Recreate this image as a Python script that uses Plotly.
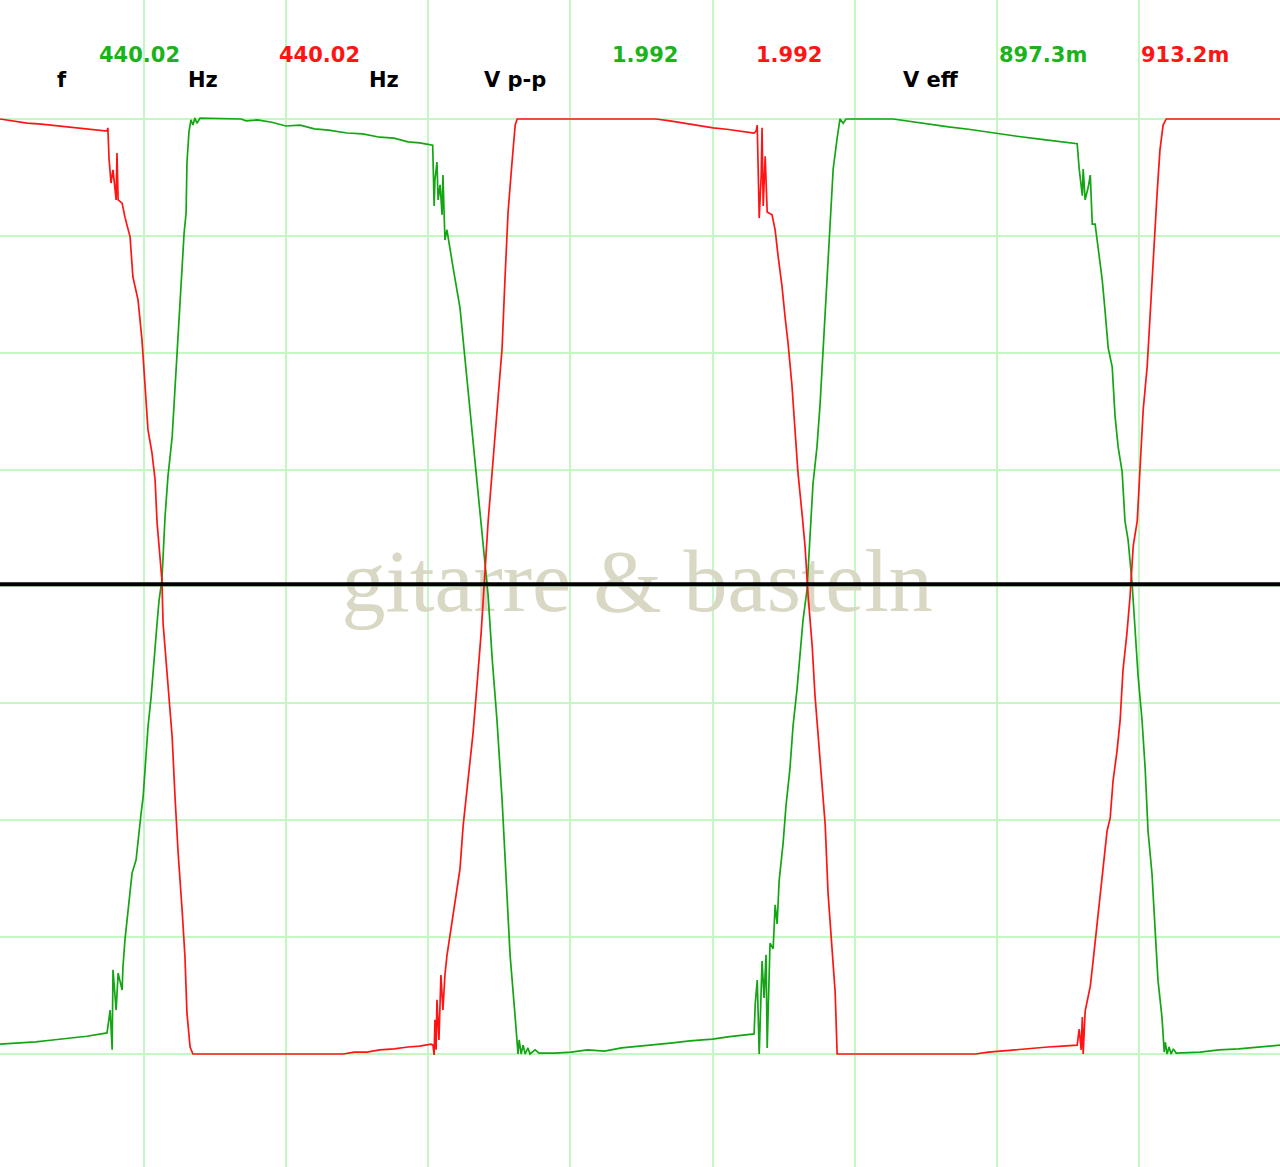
import plotly.graph_objects as go

# readouts shown above the screen
freq_vals = ["440.02", "440.02"]
vpp_vals = ["1.992", "1.992"]
veff_vals = ["897.3m", "913.2m"]
captions = ["f", "Hz", "Hz", "V p-p", "V eff"]
watermark = "gitarre & basteln"

# screen divisions: 0.5 ms/div, 0.25 V/div
x_grid = [0.5, 1.0, 1.5, 2.0, 2.5, 3.0, 3.5, 4.0]
y_grid = [-1.0, -0.75, -0.5, -0.25, 0.0, 0.25, 0.5, 0.75, 1.0]

# channel 1 (green), time in ms, voltage in V
green = [
    (-0.005, -0.979), (0.06, -0.977), (0.12, -0.974), (0.18, -0.970), (0.24, -0.966),
    (0.30, -0.962), (0.371, -0.955),
    (0.382, -0.906), (0.389, -0.991), (0.392, -0.820), (0.403, -0.906), (0.410, -0.827),
    (0.424, -0.863), (0.427, -0.814), (0.434, -0.756), (0.445, -0.699), (0.459, -0.613),
    (0.473, -0.585), (0.480, -0.542), (0.491, -0.484), (0.498, -0.450), (0.505, -0.386),
    (0.515, -0.301), (0.526, -0.236), (0.536, -0.151), (0.547, -0.078), (0.554, -0.029),
    (0.564, 0.014), (0.575, 0.149), (0.585, 0.234), (0.600, 0.320), (0.610, 0.427),
    (0.617, 0.512), (0.624, 0.585), (0.635, 0.692), (0.642, 0.756), (0.649, 0.799),
    (0.652, 0.906), (0.659, 0.972), (0.666, 0.998), (0.673, 0.987), (0.680, 1.002),
    (0.687, 0.991), (0.698, 1.002), (0.842, 1.000),
    (0.86, 0.996), (0.90, 0.998), (0.95, 0.993), (1.000, 0.985), (1.05, 0.987),
    (1.10, 0.979), (1.15, 0.976), (1.215, 0.970), (1.27, 0.968), (1.33, 0.961),
    (1.38, 0.959), (1.429, 0.951), (1.47, 0.949), (1.516, 0.944),
    (1.521, 0.814), (1.524, 0.870), (1.531, 0.908), (1.535, 0.827), (1.542, 0.859),
    (1.549, 0.795), (1.552, 0.880), (1.559, 0.741), (1.566, 0.763), (1.588, 0.681),
    (1.612, 0.596), (1.630, 0.484), (1.647, 0.378), (1.665, 0.258), (1.683, 0.140),
    (1.700, 0.033), (1.711, -0.020), (1.725, -0.153), (1.742, -0.286), (1.760, -0.457),
    (1.778, -0.656), (1.788, -0.788), (1.806, -0.921), (1.816, -1.000),
    (1.820, -0.970), (1.827, -1.000), (1.834, -0.981), (1.841, -1.000), (1.851, -0.987),
    (1.858, -1.000), (1.876, -0.991), (1.890, -0.998), (1.946, -0.998),
    (2.003, -0.996), (2.06, -0.991), (2.12, -0.994), (2.18, -0.987), (2.245, -0.983),
    (2.30, -0.981), (2.36, -0.976), (2.42, -0.972), (2.50, -0.968), (2.56, -0.963),
    (2.62, -0.959), (2.646, -0.957),
    (2.650, -0.893), (2.657, -0.842), (2.664, -1.000), (2.674, -0.801), (2.681, -0.880),
    (2.688, -0.788), (2.692, -0.987), (2.702, -0.763), (2.713, -0.775), (2.720, -0.681),
    (2.727, -0.722), (2.734, -0.630), (2.748, -0.549), (2.758, -0.470), (2.772, -0.390),
    (2.783, -0.298), (2.797, -0.219), (2.808, -0.138), (2.818, -0.072), (2.832, -0.007),
    (2.843, 0.112), (2.853, 0.219), (2.867, 0.298), (2.878, 0.390), (2.889, 0.510),
    (2.903, 0.656), (2.913, 0.775), (2.924, 0.893), (2.938, 0.959), (2.948, 1.000),
    (2.959, 0.991), (2.969, 1.000), (3.135, 1.000),
    (3.20, 0.994), (3.26, 0.989), (3.33, 0.983), (3.40, 0.978), (3.507, 0.968),
    (3.57, 0.963), (3.65, 0.957), (3.72, 0.951), (3.782, 0.947),
    (3.789, 0.893), (3.800, 0.836), (3.803, 0.893), (3.810, 0.827), (3.821, 0.855),
    (3.828, 0.880), (3.835, 0.775), (3.845, 0.775), (3.856, 0.722), (3.870, 0.656),
    (3.880, 0.589), (3.891, 0.510), (3.905, 0.470), (3.915, 0.365), (3.926, 0.298),
    (3.940, 0.245), (3.950, 0.140), (3.961, 0.099), (3.975, 0.007), (3.985, -0.087),
    (3.996, -0.191), (4.010, -0.286), (4.021, -0.390), (4.031, -0.523), (4.045, -0.615),
    (4.056, -0.735), (4.066, -0.842), (4.080, -0.921), (4.088, -0.996),
    (4.092, -0.975), (4.098, -1.000), (4.105, -0.985), (4.112, -1.000), (4.120, -0.989),
    (4.130, -0.998), (4.214, -0.996), (4.28, -0.991), (4.35, -0.989), (4.42, -0.985),
    (4.496, -0.981),
]

# channel 2 (red)
red = [
    (-0.005, 1.000), (0.04, 0.996), (0.09, 0.991), (0.14, 0.989), (0.20, 0.985),
    (0.26, 0.981), (0.32, 0.978), (0.371, 0.974),
    (0.374, 0.981), (0.378, 0.916), (0.385, 0.863), (0.392, 0.891), (0.403, 0.827),
    (0.406, 0.927), (0.410, 0.827), (0.424, 0.820), (0.434, 0.790), (0.452, 0.748),
    (0.462, 0.662), (0.480, 0.613), (0.494, 0.527), (0.505, 0.414), (0.515, 0.335),
    (0.529, 0.286), (0.540, 0.228), (0.547, 0.136), (0.557, 0.057), (0.564, 0.014),
    (0.568, -0.078), (0.582, -0.185), (0.600, -0.322), (0.610, -0.450), (0.621, -0.570),
    (0.635, -0.692), (0.645, -0.792), (0.652, -0.912), (0.663, -0.985), (0.673, -1.000),
    (1.201, -1.000), (1.24, -0.996), (1.285, -0.996), (1.33, -0.991), (1.38, -0.989),
    (1.429, -0.985), (1.47, -0.983), (1.510, -0.979),
    (1.517, -0.981), (1.521, -1.002), (1.524, -0.927), (1.528, -0.991), (1.531, -0.884),
    (1.538, -0.970), (1.545, -0.831), (1.552, -0.906), (1.559, -0.831), (1.566, -0.790),
    (1.588, -0.697), (1.612, -0.604), (1.623, -0.512), (1.640, -0.420), (1.658, -0.313),
    (1.672, -0.209), (1.686, -0.102), (1.700, 0.033), (1.711, 0.140), (1.725, 0.245),
    (1.742, 0.378), (1.760, 0.510), (1.770, 0.656), (1.781, 0.801), (1.795, 0.908),
    (1.806, 0.987), (1.813, 1.000),
    (2.301, 1.000), (2.35, 0.996), (2.40, 0.991), (2.45, 0.987), (2.502, 0.981),
    (2.55, 0.978), (2.60, 0.974), (2.646, 0.970),
    (2.653, 0.974), (2.657, 0.987), (2.664, 0.788), (2.671, 0.880), (2.674, 0.981),
    (2.678, 0.814), (2.685, 0.920), (2.692, 0.801), (2.709, 0.795), (2.720, 0.763),
    (2.730, 0.709), (2.744, 0.643), (2.755, 0.576), (2.765, 0.523), (2.779, 0.431),
    (2.790, 0.337), (2.800, 0.245), (2.815, 0.153), (2.825, 0.087), (2.836, -0.020),
    (2.850, -0.125), (2.860, -0.232), (2.878, -0.365), (2.896, -0.510), (2.906, -0.656),
    (2.920, -0.775), (2.931, -0.868), (2.938, -1.000),
    (3.423, -1.000), (3.47, -0.996), (3.507, -0.994), (3.56, -0.991), (3.62, -0.987),
    (3.68, -0.985), (3.73, -0.983), (3.782, -0.981),
    (3.789, -0.947), (3.796, -0.991), (3.800, -0.921), (3.803, -1.000), (3.810, -0.908),
    (3.828, -0.855), (3.838, -0.801), (3.852, -0.722), (3.863, -0.656), (3.873, -0.589),
    (3.887, -0.523), (3.898, -0.495), (3.908, -0.416), (3.922, -0.352), (3.933, -0.286),
    (3.943, -0.179), (3.957, -0.099), (3.968, -0.020), (3.979, 0.087), (3.993, 0.140),
    (4.003, 0.245), (4.014, 0.378), (4.028, 0.470), (4.038, 0.576), (4.049, 0.709),
    (4.063, 0.842), (4.073, 0.934), (4.084, 0.987), (4.095, 1.000), (4.496, 1.000),
]

GREEN_LINE = "rgb(20,165,20)"
GREEN_TEXT = "rgb(25,180,25)"
RED = "rgb(255,20,20)"
GRID = "rgb(195,248,195)"

fig = go.Figure()

# watermark sits under the traces
fig.add_trace(go.Scatter(
    x=[2.235], y=[-0.005], mode="text", text=[watermark],
    textfont=dict(family="Liberation Serif", size=88, color="rgb(216,216,196)"),
    textposition="middle center", hoverinfo="skip", showlegend=False,
))

fig.add_trace(go.Scatter(
    x=[p[0] for p in green], y=[p[1] for p in green], mode="lines",
    line=dict(color=GREEN_LINE, width=1.7), showlegend=False,
))
fig.add_trace(go.Scatter(
    x=[p[0] for p in red], y=[p[1] for p in red], mode="lines",
    line=dict(color=RED, width=1.7), showlegend=False,
))

# 0 V reference line
fig.add_shape(type="line", xref="paper", x0=0, x1=1, yref="y", y0=0.005, y1=0.005,
              line=dict(color="black", width=4), layer="above")

W, H = 1280, 1167

def label(txt, px, py, color):
    fig.add_annotation(
        text="<b>%s</b>" % txt, xref="paper", yref="paper",
        x=px / W, y=1 - py / H, xanchor="center", yanchor="middle",
        showarrow=False, font=dict(family="DejaVu Sans", size=21, color=color),
    )

label(captions[0], 62, 80, "black")
label(freq_vals[0], 139, 55, GREEN_TEXT)
label(captions[1], 203, 80, "black")
label(freq_vals[1], 319, 55, RED)
label(captions[2], 384, 80, "black")
label(captions[3], 515, 80, "black")
label(vpp_vals[0], 645, 55, GREEN_TEXT)
label(vpp_vals[1], 789, 55, RED)
label(captions[4], 931, 80, "black")
label(veff_vals[0], 1043, 55, GREEN_TEXT)
label(veff_vals[1], 1185, 55, RED)

fig.update_layout(
    width=W, height=H, margin=dict(l=0, r=0, t=0, b=0),
    paper_bgcolor="white", plot_bgcolor="white",
    xaxis=dict(range=[-0.0053, 4.495], tickmode="array", tickvals=x_grid, showgrid=True,
               gridcolor=GRID, gridwidth=1.5, zeroline=False,
               showticklabels=False, ticks="", fixedrange=True),
    yaxis=dict(range=[-1.2417, 1.2545], tickmode="array", tickvals=y_grid, showgrid=True,
               gridcolor=GRID, gridwidth=1.5, zeroline=False,
               showticklabels=False, ticks="", fixedrange=True),
)

fig.write_html("out.html", config={"displayModeBar": False},
               post_script="document.body.style.margin='0';document.body.style.overflow='hidden';")
